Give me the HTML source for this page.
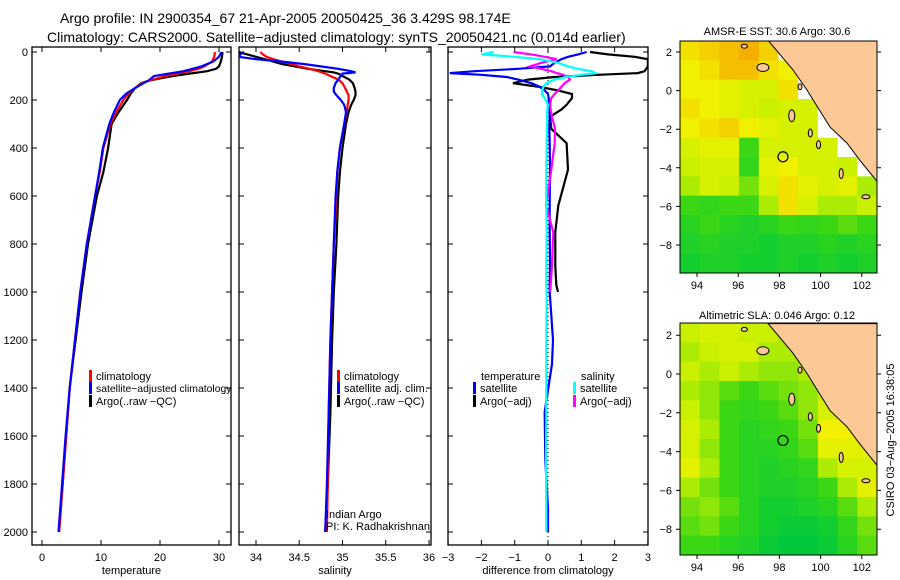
<!DOCTYPE html>
<html><head><meta charset="utf-8">
<style>
html,body{margin:0;padding:0;background:#fff;}
svg{display:block;font-family:"Liberation Sans",sans-serif;}
</style></head>
<body>
<svg id="chart" width="900" height="580" viewBox="0 0 900 580" xmlns="http://www.w3.org/2000/svg">
<text x="60" y="23" font-size="14">Argo profile: IN 2900354_67 21-Apr-2005 20050425_36 3.429S 98.174E</text>
<text x="47" y="42" font-size="14">Climatology: CARS2000. Satellite−adjusted climatology: synTS_20050421.nc (0.014d earlier)</text>
<text x="777" y="35" font-size="11" text-anchor="middle">AMSR-E SST: 30.6 Argo: 30.6</text>
<text x="777" y="319" font-size="11" text-anchor="middle">Altimetric SLA: 0.046 Argo: 0.12</text>
<text transform="translate(894,440) rotate(-90)" font-size="11" text-anchor="middle">CSIRO 03−Aug−2005 16:38:05</text>
<g id="g"></g>
</svg>
<script>
// ---- data ----
const tDepth = [0,20,40,60,70,80,90,100,110,120,130,140,150,175,200,250,300,400,500,600,800,1000,1200,1400,1600,1800,2000];
const tClim = [29.3,29.2,28.8,27.5,26.5,25,23,21,19.5,18,17,16.3,15.8,14.6,13.8,12.6,11.6,10.4,9.8,9.0,7.6,6.5,5.6,4.7,4.1,3.5,2.9];
const tSat  = [30.4,30,29,27,25.5,24,21.5,19,18.5,18,17.2,16.5,15.8,14.2,13.2,12.2,11.4,10.3,9.7,9.0,7.6,6.5,5.6,4.7,4.0,3.4,2.8];
const tArgo = [30.6,30.5,30.3,30,29.5,28,25,22.2,20,18,16.8,16.3,15.8,15,14.4,13.0,11.8,11.2,10.4,9.3,7.8,6.7,5.7,4.7,4.1,3.5,2.9];
const sDepth = [0,10,20,30,40,50,60,70,80,85,90,100,115,130,150,165,180,200,220,250,300,400,500,600,800,1000,1200,1500,1800,2000];
const sClim = [34.05,34.08,34.12,34.2,34.3,34.4,34.5,34.62,34.72,34.76,34.8,34.86,34.95,35.0,35.03,35.05,35.07,35.07,35.06,35.05,35.02,34.97,34.94,34.93,34.9,34.88,34.86,34.84,34.83,34.82];
const sSat  = [33.85,33.82,33.8,34.0,34.3,34.55,34.75,34.95,35.1,35.15,35.0,34.98,34.95,34.92,34.9,34.9,34.93,34.98,35.02,35.04,35.02,34.97,34.94,34.92,34.9,34.88,34.86,34.84,34.82,34.8];
const sArgo = [33.8,33.9,34.0,34.1,34.2,34.3,34.45,34.6,34.8,34.9,34.95,35.0,35.08,35.12,35.14,35.15,35.15,35.13,35.1,35.07,35.04,35.0,34.97,34.95,34.93,34.9,34.88,34.86,34.83,34.8];
const dDepth = [0,10,20,30,45,60,70,80,88,95,104,115,130,146,160,175,192,220,240,270,320,380,490,640,750,890,970,1000,1200,1300,1500,1700,1900,2000];
const dTempSat = [1.16,0.9,0.6,0.4,0.2,0.06,-0.9,-2.2,-2.95,-2.0,-1.24,-0.9,-0.5,-0.24,-0.1,0.0,0.02,0.04,0.05,0.05,0.04,0.05,0.06,0.05,0.05,0.06,0.05,0.05,0.15,0.12,-0.1,-0.08,0.0,0.0];
const dTempArgo = [1.26,1.8,2.6,3.0,3.0,3.0,2.95,2.9,2.7,1.5,0.2,-0.6,-1.05,-0.24,0.3,0.72,0.72,0.56,0.4,0.06,0.1,0.56,0.6,0.31,0.22,0.22,0.25,0.3,null,null,null,null,null,null];
const dSalSat = [-1.64,-2.0,-1.0,-0.24,0.3,0.6,0.9,1.3,1.46,1.0,0.56,0.2,-0.05,-0.14,-0.17,-0.19,-0.1,0.0,-0.02,-0.03,-0.03,-0.04,-0.05,-0.05,-0.04,-0.05,-0.05,-0.04,-0.05,-0.05,-0.05,-0.06,-0.05,-0.05];
const dSalArgo = [-1.04,-0.5,-0.1,0.26,-0.2,-0.54,-0.2,0.1,0.26,0.45,0.6,0.66,0.5,0.4,0.31,0.2,0.1,0.06,0.08,0.12,0.21,0.2,0.1,-0.06,0.16,0.12,0.08,0.06,null,null,null,null,null,null];
const sstGrid = [
[.75,.8,.85,.9,.8,-1,-1,-1,-1,-1],
[.7,.75,.85,.85,.75,.7,-1,-1,-1,-1],
[.7,.7,.65,.6,.6,.75,-1,-1,-1,-1],
[.75,.7,.65,.6,.55,.6,.6,-1,-1,-1],
[.7,.75,.8,.7,.65,.6,.6,-1,-1,-1],
[.6,.65,.65,.3,.6,.6,.6,.6,-1,-1],
[.55,.6,.6,.25,.65,.7,.6,.6,.55,-1],
[.5,.6,.55,.4,.6,.75,.65,.6,.65,.5],
[.3,.25,.3,.3,.5,.75,.6,.5,.5,.55],
[.2,.3,.2,.15,.2,.3,.25,.3,.35,.3],
[.15,.2,.15,.15,.1,.15,.15,.2,.15,.2],
[.1,.15,.15,.1,.1,.15,.1,.15,.1,.15]];
const slaGrid = [
[.55,.6,.6,.55,.55,.5,.55,.6,.6,.6],
[.5,.55,.6,.6,.5,.5,.5,.55,.6,.6],
[.55,.5,.55,.5,.45,.45,.5,.5,.6,.6],
[.5,.45,.35,.3,.35,.4,.45,.55,.6,.6],
[.55,.45,.3,.25,.3,.35,.45,.6,.65,.6],
[.6,.5,.3,.2,.25,.3,.4,.7,.7,.65],
[.6,.45,.3,.2,.2,.25,.35,.65,.65,.65],
[.65,.5,.3,.2,.15,.2,.25,.5,.6,.6],
[.5,.4,.3,.2,.15,.15,.2,.3,.5,.65],
[.4,.45,.35,.2,.1,.1,.15,.2,.35,.5],
[.35,.4,.3,.2,.1,.05,.05,.1,.25,.4],
[.3,.3,.2,.15,.05,0,0,.05,.2,.35]];
const landLon = [97.45,98.66,99.34,99.73,100.46,101.28,101.9,102.74,102.74];
const landLat = [2.6,1.07,0.03,-0.64,-1.89,-2.72,-3.6,-4.7,2.6];
const latTicks = [2,0,-2,-4,-6,-8];
const lonTicks = [94,96,98,100,102];

// ---- helpers ----
const NS="http://www.w3.org/2000/svg";
const G=document.getElementById('g');
function el(tag,attrs,parent){const e=document.createElementNS(NS,tag);for(const k in attrs)e.setAttribute(k,attrs[k]);(parent||G).appendChild(e);return e;}
const yD = d => 52 + d*0.24;

function panel(name,x0,x1,xs,ticks,label,showY){
  const r=el('rect',{x:x0,y:47,width:x1-x0,height:498,fill:'none',stroke:'#000','stroke-width':1.3});
  
  
  ticks.forEach(t=>{
    const x=xs(t);
    const tk=el('path',{d:`M${x},545v-5M${x},47v5`,stroke:'#000'});
    
    
    const tl=el('text',{x:x,y:561,'font-size':11,'text-anchor':'middle'});
    tl.textContent=String(t).replace('-','−');
    
    
  });
  [0,200,400,600,800,1000,1200,1400,1600,1800,2000].forEach(d=>{
    const y=yD(d);
    const tk=el('path',{d:`M${x0},${y}h5M${x1},${y}h-5`,stroke:'#000'});
    
    
    if(showY){const tl=el('text',{x:28,y:y+4,'font-size':11,'text-anchor':'end'});tl.textContent=d;
      
      }
  });
  const al=el('text',{x:(x0+x1)/2,y:574,'font-size':11,'text-anchor':'middle'});
  al.textContent=label;
  
  
}
function line(name,depths,vals,xs,color,clip){
  let d='',pen=false;
  depths.forEach((dp,i)=>{const v=vals[i];if(v==null){pen=false;return;}
    d+=(pen?'L':'M')+xs(v).toFixed(1)+','+yD(dp).toFixed(1);pen=true;});
  const p=el('path',{d:d,fill:'none',stroke:color,'stroke-width':2.2,'clip-path':clip});
  
  
}
function legend(name,x,y,color,text,fs){
  const b=el('rect',{x:x,y:y-6,width:3,height:12,fill:color});
  
  
  if(text){const t=el('text',{x:x+7,y:y+4,'font-size':fs||11});t.textContent=text;
    
    }
}
function clip(id,x,w){const c=el('clipPath',{id:id});el('rect',{x:x,y:47,width:w,height:498},c);return `url(#${id})`;}

// temperature panel
const xT=v=>42+v*5.9;
const c1=clip('c1',32,199);
panel('temperature-panel',32,231,xT,[0,10,20,30],'temperature',true);
line('temp-argo-line',tDepth,tArgo,xT,'#000',c1);
line('temp-climatology-line',tDepth,tClim,xT,'#f00',c1);
line('temp-satellite-line',tDepth,tSat,xT,'#00f',c1);
legend('legend-climatology',89,376,'#f00','climatology');
legend('legend-satellite-adjusted',89,388,'#00f','satellite−adjusted climatology',10.4);
legend('legend-argo',89,401,'#000','Argo(..raw −QC)');

// salinity panel
const xS=v=>256+(v-34)*86.5;
const c2=clip('c2',239,192);
panel('salinity-panel',239,431,xS,[34,34.5,35,35.5,36],'salinity',false);
line('sal-argo-line',sDepth,sArgo,xS,'#000',c2);
line('sal-climatology-line',sDepth,sClim,xS,'#f00',c2);
line('sal-satellite-line',sDepth,sSat,xS,'#00f',c2);
legend('sal-legend-climatology',337,376,'#f00','climatology');
legend('sal-legend-satellite',337,388,'#00f','satellite adj. clim.');
legend('sal-legend-argo',337,401,'#000','Argo(..raw −QC)');
[['Indian Argo',518],['PI: K. Radhakrishnan',530]].forEach(([t,y])=>{const e=el('text',{x:326,y:y,'font-size':11});e.textContent=t;
  
  });

// difference panel
const xDf=v=>548+v*33.3;
const c3=clip('c3',448,200);
panel('difference-panel',448,648,xDf,[-3,-2,-1,0,1,2,3],'difference from climatology',false);
const z=el('path',{d:`M548,52V545`,stroke:'#000','stroke-dasharray':'1,3'});


line('diff-temp-argo-line',dDepth,dTempArgo,xDf,'#000',c3);
line('diff-temp-satellite-line',dDepth,dTempSat,xDf,'#00f',c3);
line('diff-sal-argo-line',dDepth,dSalArgo,xDf,'#f0f',c3);
line('diff-sal-satellite-line',dDepth,dSalSat,xDf,'#0ff',c3);
[['temperature',481,380],['salinity',581,380]].forEach(([t,x,y])=>{const e=el('text',{x:x,y:y,'font-size':11});e.textContent=t;
  
  });
legend('diff-legend-temp-satellite',473,388,'#00f','satellite');
legend('diff-legend-temp-argo',473,401,'#000','Argo(−adj)');
legend('diff-legend-sal-satellite',573,388,'#0ff','satellite');
legend('diff-legend-sal-argo',573,401,'#f0f','Argo(−adj)');

// maps
function cmap(v){
  const stops=[[0,[0,200,60]],[0.3,[60,215,20]],[0.55,[200,240,0]],[0.7,[240,240,0]],[0.9,[245,175,0]],[1,[245,150,0]]];
  for(let i=1;i<stops.length;i++){if(v<=stops[i][0]){const [a,ca]=stops[i-1],[b,cb]=stops[i];const t=(v-a)/(b-a);
    return 'rgb('+ca.map((c,k)=>Math.round(c+(cb[k]-c)*t)).join(',')+')';}}
  return 'rgb(245,150,0)';
}
function map(name,x0,y0,w,h,grid,lat2y){
  const lonX=lon=>697+(lon-94)*20.6;
  const cid='clip-'+name;const c=el('clipPath',{id:cid});el('rect',{x:x0,y:y0,width:w,height:h},c);
  const g=el('g',{'clip-path':`url(#${cid})`});
  const rows=grid.length,cols=grid[0].length,cw=w/cols,ch=h/rows;
  grid.forEach((row,ri)=>row.forEach((v,ci)=>{
    const r=el('rect',{x:x0+ci*cw,y:y0+ri*ch,width:cw+0.5,height:ch+0.5,fill:v<0?'#fff':cmap(v)},g);
    
    
  }));
  const pts=landLon.map((lo,i)=>lonX(lo).toFixed(1)+','+lat2y(landLat[i]).toFixed(1)).join(' ');
  const land=el('polygon',{points:pts,fill:'#fcc896',stroke:'#000','stroke-width':1},g);
  
  
  [[97.2,1.2,6,4],[98.6,-1.3,3,6],[99.5,-2.2,2,4],[99.9,-2.8,2,4],[101.0,-4.3,2,5],[102.2,-5.5,4,2],[96.3,2.3,3,2],[99.0,0.2,2,3]].forEach(([lo,la,rx,ry])=>{
    const e=el('ellipse',{cx:lonX(lo),cy:lat2y(la),rx:rx,ry:ry,fill:'#fcc896',stroke:'#000','stroke-width':1},g);
    
    
  });
  const ar=el('circle',{cx:lonX(98.174),cy:lat2y(-3.429),r:5,fill:'none',stroke:'#000','stroke-width':1.2});
  
  
  const fr=el('rect',{x:x0,y:y0,width:w,height:h,fill:'none',stroke:'#000','stroke-width':1});
  
  
  latTicks.forEach(la=>{const y=lat2y(la);
    el('path',{d:`M${x0},${y}h-4M${x0+w},${y}h4`,stroke:'#000'});
    const t=el('text',{x:x0-8,y:y+4,'font-size':11,'text-anchor':'end'});t.textContent=String(la).replace('-','−');
    
    });
  lonTicks.forEach(lo=>{const x=lonX(lo);
    el('path',{d:`M${x},${y0+h}v4`,stroke:'#000'});
    const t=el('text',{x:x,y:y0+h+16,'font-size':11,'text-anchor':'middle'});t.textContent=lo;
    
    });
}
map('sst-map',680,41,197,232,sstGrid,la=>52+(2-la)*19.3);
map('sla-map',680,323,197,232,slaGrid,la=>374+(0-la)*19.4);
</script>
</body></html>
